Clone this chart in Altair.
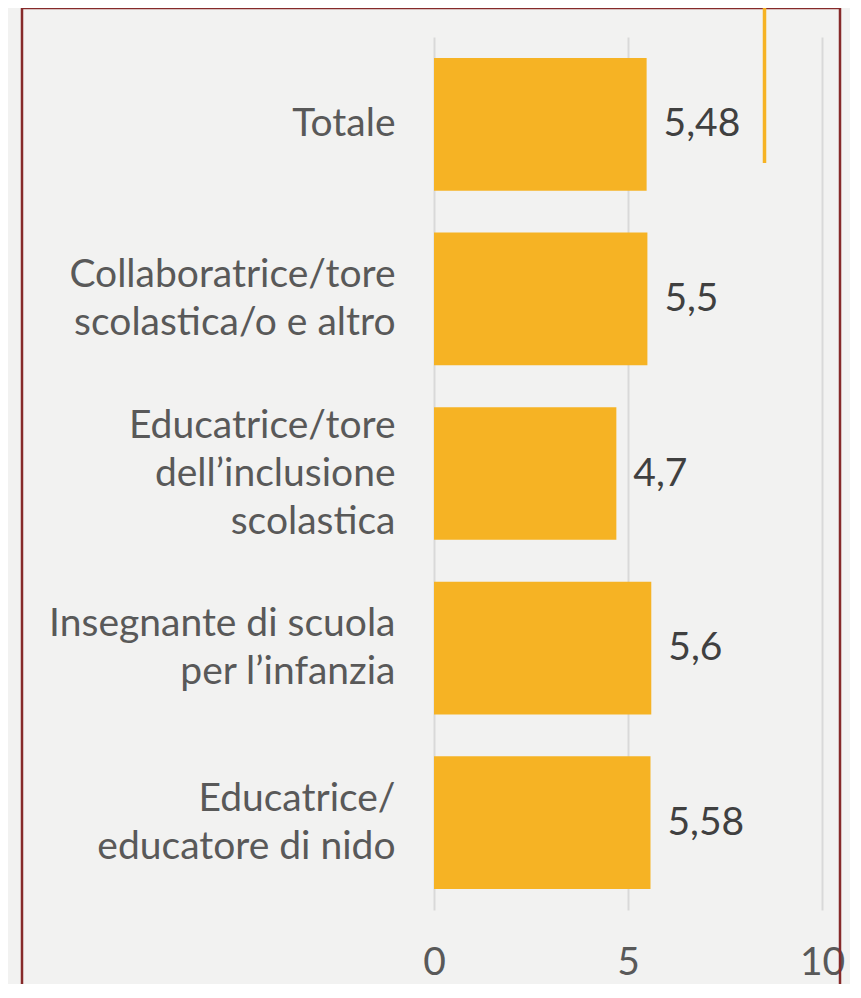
import altair as alt
import pandas as pd

categories = [
    "Totale",
    "Collaboratrice/tore|scolastica/o e altro",
    "Educatrice/tore|dell’inclusione|scolastica",
    "Insegnante di scuola|per l’infanzia",
    "Educatrice/|educatore di nido",
]
values = [5.48, 5.5, 4.7, 5.6, 5.58]
x_ticks = [0, 5, 10]

df = pd.DataFrame({"cat": categories, "val": values})

BG = "#f2f2f1"
BAR = "#f6b324"
FONT = "Lato"

label_offset = {
    "condition": [
        {"test": "length(split(datum.label, '|')) >= 3", "value": -48},
        {"test": "length(split(datum.label, '|')) == 2", "value": -24},
    ],
    "value": 0,
}

base = alt.Chart(df)

bars = base.mark_bar(color=BAR).encode(
    y=alt.Y(
        "cat:N",
        sort=None,
        title=None,
        scale=alt.Scale(paddingInner=0.24, paddingOuter=0.12),
        axis=alt.Axis(
            labelExpr="split(datum.label, '|')",
            labelFontSize=39,
            labelLineHeight=48,
            labelColor="#595959",
            labelFont=FONT,
            labelPadding=39,
            labelLimit=0,
            labelOffset=label_offset,
            ticks=False,
            domain=False,
            grid=False,
        ),
    ),
    x=alt.X(
        "val:Q",
        title=None,
        scale=alt.Scale(domain=[0, 10], nice=False),
        axis=alt.Axis(
            values=x_ticks,
            labelFontSize=39,
            labelColor="#595959",
            labelFont=FONT,
            labelPadding=33,
            labelFlush=False,
            ticks=False,
            domain=False,
            grid=True,
            gridColor="#d9d9d9",
            gridWidth=2,
        ),
    ),
)

text = base.transform_calculate(
    lab="replace(toString(datum.val), '.', ',')"
).mark_text(
    align="left", baseline="middle", dx=17, fontSize=39, font=FONT, color="#404040"
).encode(
    y=alt.Y("cat:N", sort=None),
    x="val:Q",
    text="lab:N",
)

deco = alt.Chart(alt.Data(values=[{"k": 1}]))
border = deco.mark_rect(filled=False, stroke="#862a2a", strokeWidth=2.5).encode(
    x=alt.value(-412), x2=alt.value(406), y=alt.value(-29), y2=alt.value(1000)
)
accent = deco.mark_rule(color=BAR, strokeWidth=3.5).encode(
    x=alt.value(330.5), y=alt.value(-37), y2=alt.value(126)
)

chart = alt.layer(bars, text, border, accent).properties(
    width=388,
    height=873,
    background=BG,
    padding={"left": 426, "top": 29, "right": 28, "bottom": 74},
    autosize=alt.AutoSizeParams(type="none"),
).configure_view(stroke=None)

chart.save("out.html", embed_options={"renderer": "svg", "actions": False})
